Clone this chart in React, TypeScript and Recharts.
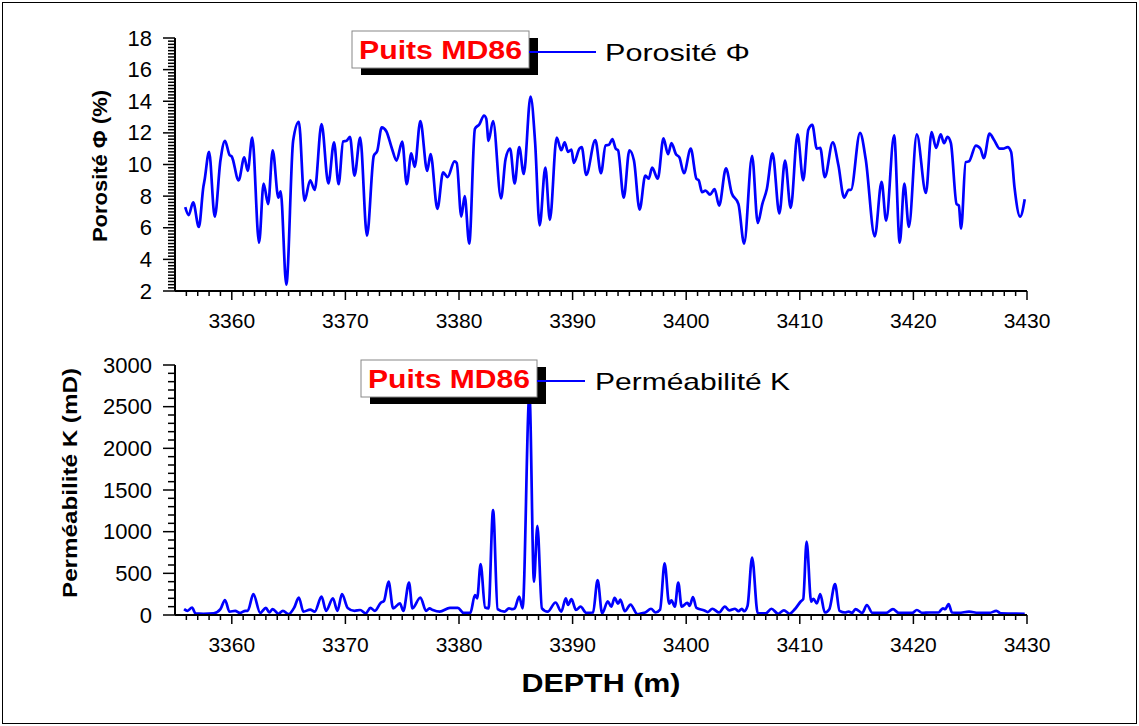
import React from 'react';
import { LineChart, Line, XAxis, YAxis, Legend } from 'recharts';

// Porosity log, well MD86 (depth in m, porosity in %)
const phiDepth = [
  3355.9, 3356.2, 3356.6, 3357.1, 3357.5, 3357.6, 3358.0, 3358.5, 3359.0, 3359.4, 3359.8, 3360.0,
  3360.6, 3361.1, 3361.4, 3361.8, 3362.4, 3362.8, 3363.2, 3363.6, 3364.1, 3364.3, 3364.8, 3365.4,
  3365.9, 3366.4, 3366.9, 3367.3, 3367.9, 3368.5, 3369.0, 3369.4, 3369.8, 3370.1, 3370.4, 3370.8,
  3371.3, 3371.9, 3372.5, 3372.8, 3373.2, 3373.6, 3374.1, 3374.5, 3375.0, 3375.4, 3375.8, 3376.1,
  3376.6, 3377.2, 3377.5, 3378.1, 3378.6, 3379.0, 3379.6, 3379.8, 3380.2, 3380.5, 3380.9, 3381.4,
  3381.8, 3382.2, 3382.4, 3382.6, 3383.0, 3383.7, 3384.1, 3384.5, 3384.9, 3385.3, 3385.7, 3386.3,
  3386.7, 3387.1, 3387.6, 3388.0, 3388.6, 3389.0, 3389.3, 3389.6, 3389.9, 3390.1, 3390.6, 3390.8,
  3391.2, 3392.0, 3392.5, 3392.9, 3393.2, 3393.5, 3393.8, 3394.0, 3394.5, 3395.0, 3395.4, 3395.9,
  3396.4, 3396.7, 3397.0, 3397.5, 3398.0, 3398.4, 3398.7, 3399.1, 3399.4, 3399.8, 3400.4, 3400.9,
  3401.1, 3401.4, 3401.7, 3402.1, 3402.5, 3402.9, 3403.5, 3404.0, 3404.6, 3405.1, 3405.8, 3406.3,
  3406.7, 3407.1, 3407.6, 3408.2, 3408.7, 3409.2, 3409.8, 3410.3, 3410.75, 3411.1, 3411.5, 3411.8,
  3412.2, 3412.9, 3413.4, 3413.9, 3414.3, 3414.5, 3415.3, 3415.8, 3416.6, 3417.2, 3417.6, 3418.3,
  3418.8, 3419.2, 3419.6, 3420.3, 3421.1, 3421.6, 3422.0, 3422.4, 3422.7, 3423.0, 3423.3, 3423.8,
  3424.0, 3424.2, 3424.6, 3424.9, 3425.5, 3425.9, 3426.2, 3426.7, 3427.1, 3427.6, 3427.9, 3428.3,
  3428.6, 3428.9, 3429.4, 3429.8,
];
const phiValue = [
  7.3, 6.8, 7.6, 6.05, 8.6, 9.0, 10.8, 6.7, 10.25, 11.5, 10.6, 10.5,
  9.0, 10.45, 9.6, 11.7, 5.05, 8.8, 7.5, 10.9, 7.9, 8.3, 2.4, 11.5,
  12.7, 7.7, 9.0, 8.4, 12.55, 8.8, 11.4, 8.75, 11.45, 11.5, 11.75, 9.3,
  11.7, 5.5, 10.55, 10.85, 12.35, 12.1, 11.0, 10.25, 11.45, 8.75, 10.7, 9.85,
  12.75, 9.6, 10.65, 7.2, 9.5, 9.2, 10.2, 10.1, 6.7, 8.0, 5.0, 12.25,
  12.55, 13.1, 12.9, 11.5, 12.75, 7.85, 10.35, 11.0, 8.8, 11.1, 9.4, 14.3,
  11.4, 6.15, 9.8, 6.5, 11.7, 10.9, 11.4, 10.8, 10.95, 10.1, 11.0, 11.1,
  9.35, 11.55, 9.45, 11.2, 11.25, 11.6, 11.0, 10.9, 7.9, 10.9, 10.25, 7.15,
  9.3, 9.1, 9.8, 9.1, 11.65, 10.65, 11.35, 10.65, 10.45, 9.45, 11.0, 9.1,
  9.0, 8.25, 8.35, 8.1, 8.45, 7.4, 9.75, 8.2, 7.5, 5.0, 10.55, 6.3,
  7.5, 8.45, 10.7, 6.9, 10.25, 7.25, 11.9, 9.0, 12.2, 12.5, 11.0, 11.05,
  9.2, 11.4, 9.95, 7.9, 8.4, 8.4, 12.0, 10.35, 5.45, 8.9, 6.45, 11.85,
  5.05, 8.8, 6.05, 11.9, 8.2, 12.05, 11.05, 11.9, 11.35, 11.75, 11.35, 7.5,
  7.4, 5.95, 10.15, 10.2, 11.2, 11.0, 10.4, 11.95, 11.55, 11.0, 11.0, 11.1,
  10.8, 8.55, 6.7, 7.8,
];

// Permeability log, well MD86 (depth in m, K in mD)
const kDepth = [
  3355.8, 3356.1, 3356.5, 3356.8, 3357.5, 3358.4, 3359.0, 3359.4, 3359.8, 3360.3, 3360.7, 3361.2,
  3361.4, 3361.9, 3362.5, 3363.0, 3363.3, 3363.6, 3364.1, 3364.5, 3365.0, 3365.5, 3365.9, 3366.3,
  3366.9, 3367.3, 3367.9, 3368.3, 3368.9, 3369.3, 3369.7, 3370.2, 3370.8, 3371.3, 3371.8, 3372.2,
  3372.6, 3373.1, 3373.4, 3373.8, 3374.2, 3374.8, 3375.1, 3375.6, 3375.9, 3376.6, 3377.1, 3377.4,
  3377.7, 3378.3, 3379.2, 3379.9, 3380.4, 3381.0, 3381.4, 3381.6, 3381.9, 3382.3, 3382.6, 3383.0,
  3383.4, 3384.0, 3384.4, 3384.7, 3384.9, 3385.3, 3385.6, 3386.2, 3386.6, 3386.9, 3387.3, 3387.8,
  3388.5, 3389.0, 3389.4, 3389.6, 3389.9, 3390.3, 3390.7, 3391.2, 3391.8, 3392.2, 3392.6, 3393.1,
  3393.4, 3393.7, 3394.0, 3394.2, 3394.6, 3395.1, 3395.7, 3396.1, 3396.4, 3396.9, 3397.3, 3397.7,
  3398.1, 3398.5, 3398.7, 3399.0, 3399.3, 3399.6, 3400.1, 3400.3, 3400.6, 3400.9, 3401.6, 3401.9,
  3402.3, 3402.9, 3403.4, 3403.8, 3404.3, 3404.6, 3404.9, 3405.1, 3405.4, 3405.8, 3406.3, 3407.0,
  3407.5, 3408.1, 3408.6, 3409.1, 3409.6, 3410.1, 3410.3, 3410.6, 3411.0, 3411.2, 3411.5, 3411.8,
  3412.2, 3412.6, 3413.1, 3413.5, 3414.0, 3414.3, 3414.6, 3414.9, 3415.5, 3415.9, 3416.4, 3417.6,
  3418.2, 3418.7, 3419.9, 3420.3, 3420.8, 3421.4, 3422.2, 3422.6, 3422.8, 3423.1, 3423.4, 3424.0,
  3424.9, 3425.7, 3426.7, 3427.3, 3427.7, 3429.8,
];
const kValue = [
  70, 50, 90, 20, 15, 20, 70, 180, 40, 50, 25, 50,
  50, 250, 25, 85, 30, 70, 15, 50, 10, 90, 210, 40,
  65, 40, 220, 50, 200, 50, 250, 85, 50, 60, 20, 85,
  50, 145, 170, 400, 80, 140, 50, 390, 80, 210, 50, 80,
  60, 40, 85, 85, 25, 25, 240, 200, 610, 90, 80, 1260,
  70, 40, 80, 70, 80, 220, 80, 2650, 400, 1070, 80, 40,
  150, 40, 200, 120, 190, 60, 100, 25, 30, 420, 20, 165,
  100, 205, 135, 185, 45, 125, 10, 20, 30, 75, 30, 65,
  620, 135, 175, 100, 390, 100, 145, 110, 215, 85, 55, 35,
  75, 30, 100, 55, 75, 45, 75, 45, 110, 690, 20, 20,
  75, 15, 55, 15, 75, 165, 190, 880, 160, 195, 140, 250,
  30, 70, 370, 50, 30, 40, 25, 70, 25, 120, 25, 25,
  70, 25, 25, 60, 25, 30, 30, 80, 70, 130, 30, 25,
  40, 25, 25, 50, 20, 15,
];

const depthLabels = [3360, 3370, 3380, 3390, 3400, 3410, 3420, 3430];
const phiLabels = [2, 4, 6, 8, 10, 12, 14, 16, 18];
const kLabels = [0, 500, 1000, 1500, 2000, 2500, 3000];

const phiData = phiDepth.map((d, i) => ({ depth: d, phi: phiValue[i] }));
const kData = kDepth.map((d, i) => ({ depth: d, k: kValue[i] }));

// minor ticks: 1 m on depth, 0.2 % on porosity, 100 mD on permeability
const depthTicks: number[] = [];
for (let d = 3356; d <= 3430; d++) depthTicks.push(d);
const phiTicks: number[] = [];
for (let i = 10; i <= 90; i++) phiTicks.push(Math.round(i * 2) / 10);
const kTicks: number[] = [];
for (let v = 0; v <= 3000; v += 100) kTicks.push(v);

const FONT = '"Liberation Sans", Arial, sans-serif';

const XTick = ({ x, y, payload }: any) => {
  const major = depthLabels.includes(payload.value);
  return (
    <g>
      <line x1={x} x2={x} y1={y} y2={y + (major ? 9 : 5)} stroke="#000" strokeWidth={1.5} />
      {major && (
        <text x={x} y={y + 29} textAnchor="middle" dominantBaseline="central" fontSize={21} fontFamily={FONT} fill="#000">
          {payload.value}
        </text>
      )}
    </g>
  );
};

const makeYTick = (labels: number[]) => ({ x, y, payload }: any) => {
  const major = labels.some((l) => Math.abs(l - payload.value) < 1e-6);
  return (
    <g>
      <line x1={x} x2={x - (major ? 12 : 7)} y1={y} y2={y} stroke="#000" strokeWidth={1.5} />
      {major && (
        <text x={x - 23} y={y} textAnchor="end" dominantBaseline="central" fontSize={22} fontFamily={FONT} fill="#000">
          {payload.value}
        </text>
      )}
    </g>
  );
};

const PhiTick = makeYTick(phiLabels);
const KTick = makeYTick(kLabels);

const LegendBox = ({ payload, lineEnd, textStart, textLen, boxW }: any) => {
  const item = payload && payload[0];
  return (
    <svg width={470} height={60} style={{ display: 'block' }}>
      <rect x={16} y={13} width={boxW} height={37} fill="#000" />
      <rect x={7} y={6} width={boxW} height={37} fill="#fff" stroke="#888" strokeWidth={1} />
      <text x={7 + boxW / 2} y={25} textAnchor="middle" dominantBaseline="central" fontSize={25} fontWeight="bold"
        fontFamily={FONT} fill="#ff0000" textLength={boxW - 14} lengthAdjust="spacingAndGlyphs">
        Puits MD86
      </text>
      <line x1={7 + boxW} x2={lineEnd} y1={27} y2={27} stroke={item ? item.color : '#0000ff'} strokeWidth={2} />
      <text x={textStart} y={27} dominantBaseline="central" fontSize={24} fontFamily={FONT} fill="#000"
        textLength={textLen} lengthAdjust="spacingAndGlyphs">
        {item ? item.value : ''}
      </text>
    </svg>
  );
};

export default function App() {
  return (
    <div style={{ position: 'absolute', left: 0, top: 0, width: 1139, height: 726, background: '#fff' }}>
      <div style={{ position: 'absolute', left: 2, top: 2, width: 1133, height: 720, border: '1px solid #000' }} />

      <div style={{ position: 'absolute', left: 0, top: 0 }}>
        <LineChart width={1139} height={345} data={phiData} margin={{ top: 38, right: 112, left: 100, bottom: 14 }}>
          <XAxis dataKey="depth" type="number" domain={[3355, 3430]} ticks={depthTicks} interval={0}
            allowDataOverflow height={40} tickSize={0} tickMargin={0} tickLine={false}
            axisLine={{ stroke: '#000', strokeWidth: 2 }} tick={(p: any) => <XTick {...p} />} />
          <YAxis type="number" domain={[2, 18]} ticks={phiTicks} interval={0} allowDataOverflow width={75}
            tickSize={0} tickMargin={0} tickLine={false} axisLine={{ stroke: '#000', strokeWidth: 2 }}
            tick={(p: any) => <PhiTick {...p} />}
            label={{
              content: () => (
                <text x={100} y={166} transform="rotate(-90 100 166)" textAnchor="middle" dominantBaseline="central"
                  fontSize={20} fontWeight="bold" fontFamily={FONT} fill="#000" textLength={152} lengthAdjust="spacingAndGlyphs">
                  Porosité Φ (%)
                </text>
              ),
            }} />
          <Legend layout="horizontal" verticalAlign="middle" align="center"
            wrapperStyle={{ top: 25, left: 345, width: 470 }}
            content={(p: any) => <LegendBox {...p} boxW={177} lineEnd={251} textStart={260} textLen={145} />} />
          <Line type="monotone" dataKey="phi" name="Porosité Φ" stroke="#0000ff" strokeWidth={2.7} dot={false}
            isAnimationActive={false} />
        </LineChart>
      </div>

      <div style={{ position: 'absolute', left: 0, top: 330 }}>
        <LineChart width={1139} height={396} data={kData} margin={{ top: 35, right: 112, left: 100, bottom: 12 }}>
          <XAxis dataKey="depth" type="number" domain={[3355, 3430]} ticks={depthTicks} interval={0}
            allowDataOverflow height={99} tickSize={0} tickMargin={0} tickLine={false}
            axisLine={{ stroke: '#000', strokeWidth: 2 }} tick={(p: any) => <XTick {...p} />}
            label={{
              content: () => (
                <text x={601} y={353} textAnchor="middle" dominantBaseline="central" fontSize={25} fontWeight="bold"
                  fontFamily={FONT} fill="#000" textLength={159} lengthAdjust="spacingAndGlyphs">
                  DEPTH (m)
                </text>
              ),
            }} />
          <YAxis type="number" domain={[0, 3000]} ticks={kTicks} interval={0} allowDataOverflow width={75}
            tickSize={0} tickMargin={0} tickLine={false} axisLine={{ stroke: '#000', strokeWidth: 2 }}
            tick={(p: any) => <KTick {...p} />}
            label={{
              content: () => (
                <text x={70} y={153} transform="rotate(-90 70 153)" textAnchor="middle" dominantBaseline="central"
                  fontSize={20} fontWeight="bold" fontFamily={FONT} fill="#000" textLength={230} lengthAdjust="spacingAndGlyphs">
                  Perméabilité K (mD)
                </text>
              ),
            }} />
          <Legend layout="horizontal" verticalAlign="middle" align="center"
            wrapperStyle={{ top: 24, left: 354, width: 470 }}
            content={(p: any) => <LegendBox {...p} boxW={176} lineEnd={231} textStart={241} textLen={195} />} />
          <Line type="monotone" dataKey="k" name="Perméabilité K" stroke="#0000ff" strokeWidth={2.7} dot={false}
            isAnimationActive={false} />
        </LineChart>
      </div>
    </div>
  );
}
